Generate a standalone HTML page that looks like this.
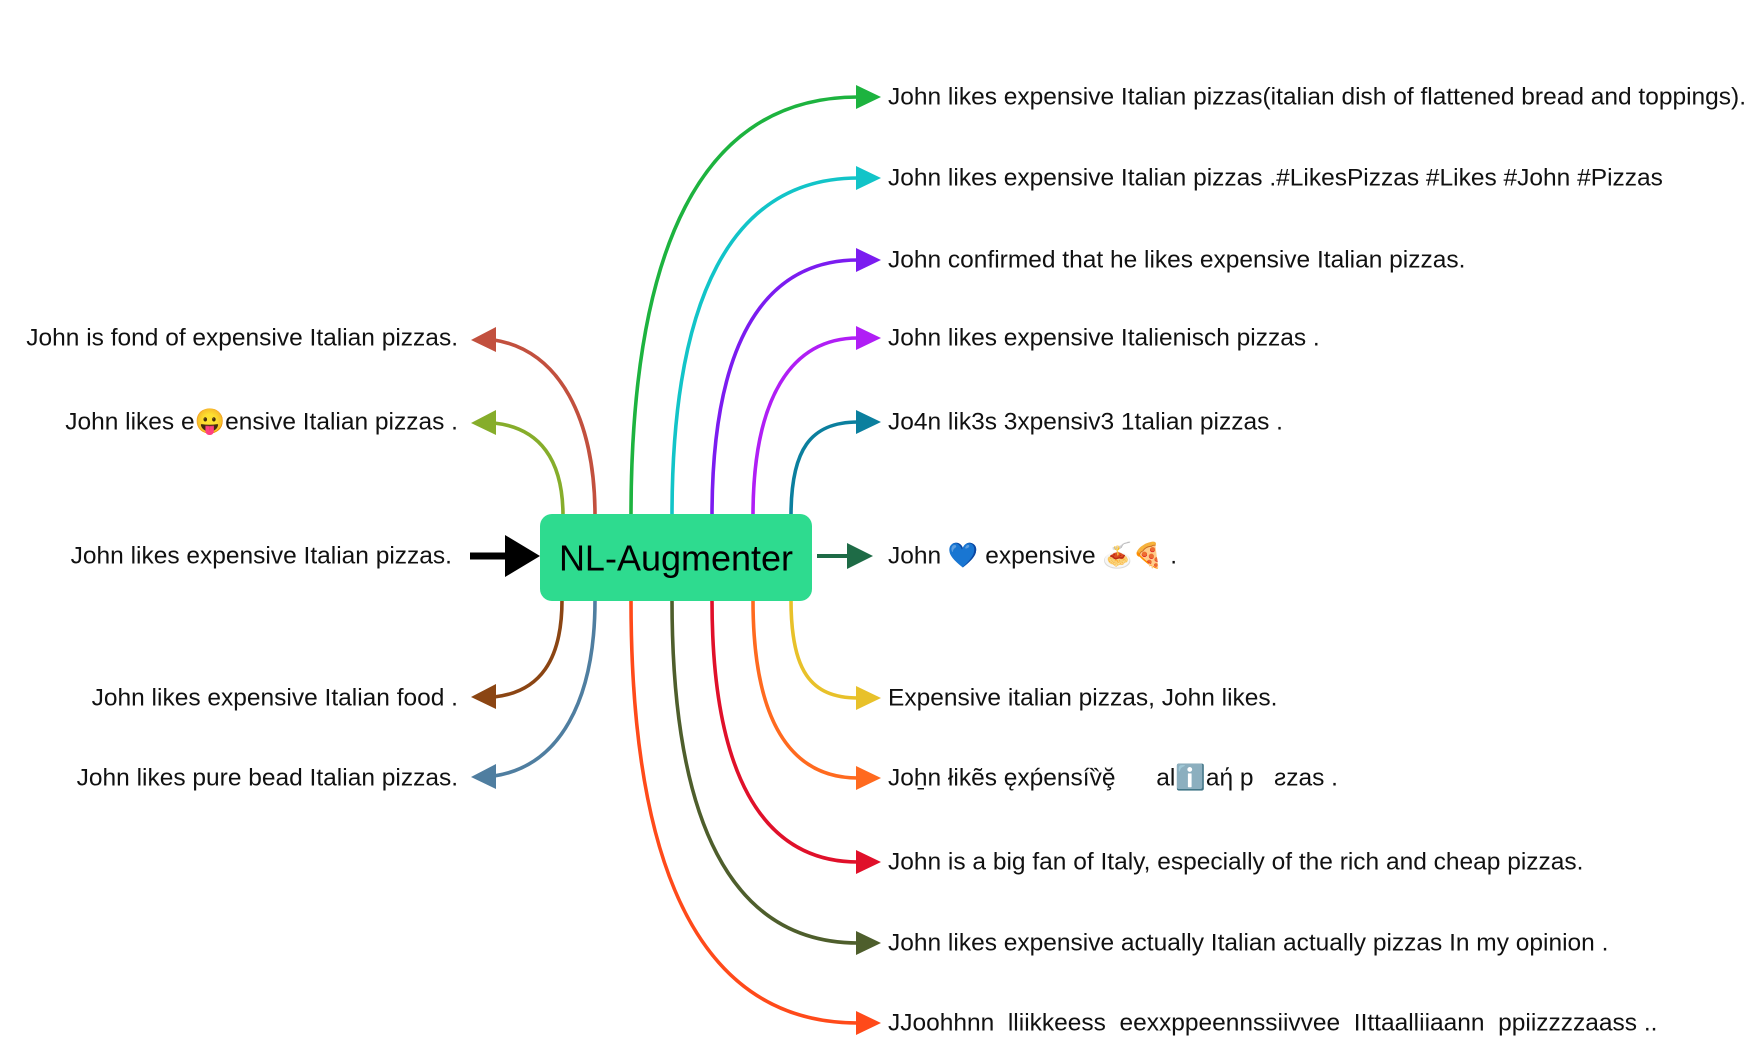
<!DOCTYPE html>
<html><head><meta charset="utf-8"><style>
html,body{margin:0;padding:0;background:#fff;}
svg{display:block;}
text{font-family:"Liberation Sans","Noto Sans CJK SC",sans-serif;font-size:24.5px;fill:#111;dominant-baseline:central;}
</style></head><body>
<svg width="1762" height="1060" viewBox="0 0 1762 1060" xmlns="http://www.w3.org/2000/svg">
<g fill="none" stroke-width="3.6">
<path d="M631 516 C631 250 700 97 858 97" stroke="#1db33f"/>
<path d="M672 516 C672 300 730 178 858 178" stroke="#12c4c8"/>
<path d="M712 516 C712 350 760 260 858 260" stroke="#7b1cf0"/>
<path d="M753 516 C753 400 790 338 858 338" stroke="#b01ef5"/>
<path d="M791 516 C791 450 810 422 858 422" stroke="#0b7f9e"/>
<path d="M791 600 C791 670 810 698 858 698" stroke="#e8c12a"/>
<path d="M753 600 C753 720 790 778 858 778" stroke="#ff6a1f"/>
<path d="M712 600 C712 770 760 862 858 862" stroke="#e0102a"/>
<path d="M672 600 C672 820 730 943 858 943" stroke="#4e5e2c"/>
<path d="M631 600 C631 870 700 1023 858 1023" stroke="#ff4a1a"/>
<path d="M595 516 C595 420 560 350 494 340" stroke="#c2503e"/>
<path d="M563 516 C563 460 540 428 494 423" stroke="#86ad2b"/>
<path d="M562 600 C562 660 540 692 494 697" stroke="#8b4513"/>
<path d="M595 600 C595 700 560 766 494 776" stroke="#4f7ea0"/>
<path d="M470 556 L512 556" stroke="#000" stroke-width="7"/>
<path d="M817 556 L850 556" stroke="#1e6b46" stroke-width="4"/>
</g>
<g>
<polygon points="881,97 856,85 856,109" fill="#1db33f"/>
<polygon points="881,178 856,166 856,190" fill="#12c4c8"/>
<polygon points="881,260 856,248 856,272" fill="#7b1cf0"/>
<polygon points="881,338 856,326 856,350" fill="#b01ef5"/>
<polygon points="881,422 856,410 856,434" fill="#0b7f9e"/>
<polygon points="881,698 856,686 856,710" fill="#e8c12a"/>
<polygon points="881,778 856,766 856,790" fill="#ff6a1f"/>
<polygon points="881,862 856,850 856,874" fill="#e0102a"/>
<polygon points="881,943 856,931 856,955" fill="#4e5e2c"/>
<polygon points="881,1023 856,1011 856,1035" fill="#ff4a1a"/>
<polygon points="471,340 496,327 496,352" fill="#c2503e"/>
<polygon points="471,423 496,410 496,435" fill="#86ad2b"/>
<polygon points="471,697 496,684 496,709" fill="#8b4513"/>
<polygon points="471,777 496,764 496,789" fill="#4f7ea0"/>
<polygon points="540,556 505,535 505,577" fill="#000"/>
<polygon points="873,556 847,543 847,569" fill="#1e6b46"/>
</g>
<rect x="540" y="514" width="272" height="87" rx="12" fill="#2edb8f"/>
<text x="676" y="558" text-anchor="middle" style="font-size:36px;fill:#000">NL-Augmenter</text>
<g>
<text x="888" y="97">John likes expensive Italian pizzas(italian dish of flattened bread and toppings).</text>
<text x="888" y="178">John likes expensive Italian pizzas .#LikesPizzas #Likes #John #Pizzas</text>
<text x="888" y="260">John confirmed that he likes expensive Italian pizzas.</text>
<text x="888" y="338">John likes expensive Italienisch pizzas .</text>
<text x="888" y="422">Jo4n lik3s 3xpensiv3 1talian pizzas .</text>
<text x="888" y="556">John 💙 expensive 🍝🍕 .</text>
<text x="888" y="698">Expensive italian pizzas, John likes.</text>
<text x="888" y="778" xml:space="preserve">Joẖn łikẽs ęxṕensív̏ḝ      alℹ️aή p   ƨzas .</text>
<text x="888" y="862">John is a big fan of Italy, especially of the rich and cheap pizzas.</text>
<text x="888" y="943">John likes expensive actually Italian actually pizzas In my opinion .</text>
<text x="888" y="1023" xml:space="preserve">JJoohhnn  lliikkeess  eexxppeennssiivvee  IIttaalliiaann  ppiizzzzaass ..</text>
</g>
<g text-anchor="end">
<text x="458" y="338">John is fond of expensive Italian pizzas.</text>
<text x="458" y="422">John likes e😛ensive Italian pizzas .</text>
<text x="452" y="556">John likes expensive Italian pizzas.</text>
<text x="458" y="698">John likes expensive Italian food .</text>
<text x="458" y="778">John likes pure bead Italian pizzas.</text>
</g>
</svg>
</body></html>
